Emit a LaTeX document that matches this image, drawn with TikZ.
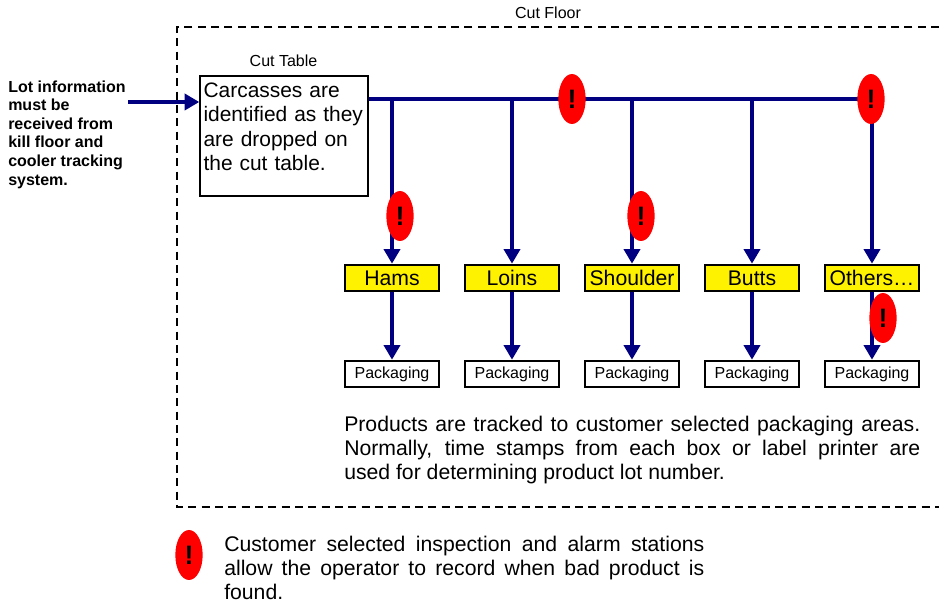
\documentclass[tikz,border=0pt]{standalone}
\usepackage{fontspec}
\setmainfont{Liberation Sans}
\usetikzlibrary{arrows.meta,shapes.geometric}
\definecolor{flownavy}{RGB}{0,0,128}
\tikzset{
    flowline/.style={draw=flownavy,line width=3.2pt},
    flowarrow/.style={flowline,-{Triangle[width=12pt,length=11pt]}},
    productbox/.style={draw,line width=1.4pt,fill=yellow,minimum width=71pt,minimum height=20pt,inner sep=0pt,font=\fontsize{15.9}{18}\selectfont},
    packbox/.style={draw,line width=1.4pt,fill=white,minimum width=71pt,minimum height=20pt,inner sep=0pt,font=\fontsize{12}{14}\selectfont},
    alarm/.style={ellipse,fill=red,minimum width=20.5pt,minimum height=37.5pt,inner sep=0pt,font=\fontsize{20}{22}\bfseries\selectfont},
    notetext/.style={inner sep=0pt,align=justify,font=\fontsize{15.9}{18}\selectfont},
    smalllabel/.style={inner sep=0pt,font=\fontsize{12}{14}\selectfont}
}
\begin{document}
\begin{tikzpicture}[x=0.75pt,y=-0.75pt]
                \useasboundingbox (0,0) rectangle (939,605);

                \draw[dashed,line width=1.2pt,dash pattern=on 6pt off 4pt] (939,27) -- (177,27) -- (177,507) -- (939,507);
                \node[smalllabel] (cutfloor) at (548,13) {Cut Floor};
                \node[smalllabel] (cuttablelabel) at (283.5,61) {Cut Table};

                \node[inner sep=0pt,anchor=north west,align=left,font=\fontsize{12}{13.9}\bfseries\selectfont] (lotinfo) at (8,80.5) {Lot information\\must be\\received from\\kill floor and\\cooler tracking\\system.};
                \coordinate (lotstart) at (128,102);

                \node[draw,line width=1.4pt,fill=white,anchor=north west,minimum width=126pt,minimum height=90pt,inner xsep=2.5pt,inner ysep=0pt,text width=121pt,align=left,font=\fontsize{15.7}{18.4}\selectfont] (cuttable) at (199.3,75) {Carcasses are\\identified as they\\are dropped on\\the cut table.\rule[-14pt]{0pt}{1pt}};

                \node[productbox] (hams) at (392,278) {Hams};
                \node[productbox] (loins) at (512,278) {Loins};
                \node[productbox] (shoulder) at (632,278) {Shoulder};
                \node[productbox] (butts) at (752,278) {Butts};
                \node[productbox] (others) at (872,278) {Others…};

                \node[packbox] (packhams) at (392,374) {Packaging};
                \node[packbox] (packloins) at (512,374) {Packaging};
                \node[packbox] (packshoulder) at (632,374) {Packaging};
                \node[packbox] (packbutts) at (752,374) {Packaging};
                \node[packbox] (packothers) at (872,374) {Packaging};

                \coordinate (barstart) at (cuttable.east |- 0,99);
                \coordinate (barend) at (others.north |- 0,99);
                \draw[flowarrow] (lotstart) -- (lotstart -| cuttable.west);
                \draw[flowline] (barstart) -- (barend);

                \draw[flowarrow] (hams |- barstart) -- (hams.north);
                \draw[flowarrow] (loins |- barstart) -- (loins.north);
                \draw[flowarrow] (shoulder |- barstart) -- (shoulder.north);
                \draw[flowarrow] (butts |- barstart) -- (butts.north);
                \draw[flowarrow] (barend) -- (others.north);

                \draw[flowarrow] (hams.south) -- (packhams.north);
                \draw[flowarrow] (loins.south) -- (packloins.north);
                \draw[flowarrow] (shoulder.south) -- (packshoulder.north);
                \draw[flowarrow] (butts.south) -- (packbutts.north);
                \draw[flowarrow] (others.south) -- (packothers.north);

                \node[alarm] (alarmhams) at (400,216) {!};
                \node[alarm] (alarmshoulder) at (641,216) {!};
                \node[alarm] (alarmbar) at (572,99) {!};
                \node[alarm] (alarmbarend) at (871,99) {!};
                \node[alarm] (alarmothers) at (883,318) {!};
                \node[alarm] (alarmkey) at (189,555) {!};

                \node[notetext,anchor=north west,text width=432pt] (products) at (344,416) {Products are tracked to customer selected packaging areas.\linebreak Normally, time stamps from each box or label printer are\linebreak used for determining product lot number.};
                \node[notetext,anchor=north west,text width=360pt] (keytext) at (224,536) {Customer selected inspection and alarm stations\linebreak allow the operator to record when bad product is\linebreak found.};
            \end{tikzpicture}
\end{document}
